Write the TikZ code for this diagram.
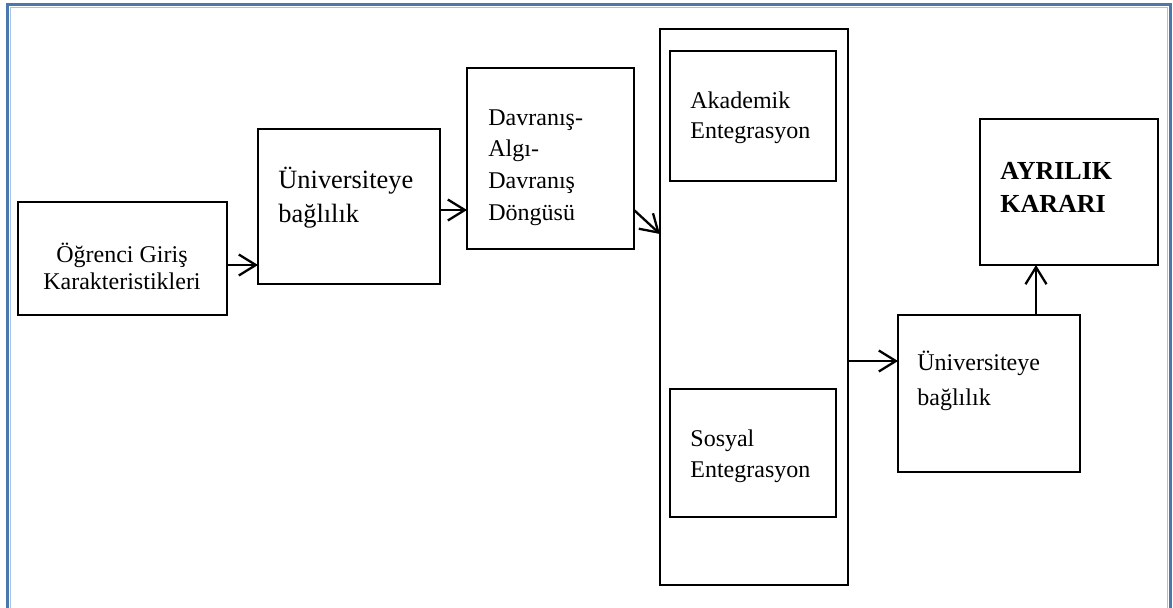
\documentclass[tikz,border=0pt]{standalone}
\usepackage{fontspec}
\setmainfont{Liberation Serif}
\usetikzlibrary{arrows.meta,fit}
\definecolor{framedark}{HTML}{4A78AC}
\definecolor{framelight}{HTML}{A9C3E2}
\begin{document}
\begin{tikzpicture}[x=0.5pt,y=-0.5pt,
  box/.style={draw=black,line width=0.7pt,inner sep=0pt,outer sep=0pt},
  arr/.style={draw=black,line width=1.15pt,-{Straight Barb[length=8.5pt,width=10.5pt]}},
  lbl/.style={inner sep=0pt,anchor=base west,font=\fontsize{12}{14}\selectfont},
  lblc/.style={lbl,anchor=base},
  lblbig/.style={lbl,font=\fontsize{13.2}{16}\selectfont},
  lblbold/.style={lbl,font=\fontsize{13}{16}\selectfont\bfseries}]
\useasboundingbox (0,0) rectangle (1173,607);
\clip (0,0) rectangle (1173,607);

% outer frame (open at the bottom edge of the page)
\draw[framedark,line width=1.6pt] (7.6,4.8) -- (1170.4,4.8) -- (1170.4,650) -- (7.6,650) -- cycle;
\draw[framelight,line width=0.8pt] (10.4,7.4) -- (1167.6,7.4) -- (1167.6,650) -- (10.4,650) -- cycle;

% boxes
\node[box,fit={(18,202) (227,315)}] (giris) {};
\node[box,fit={(258,129) (440,284)}] (bag1) {};
\node[box,fit={(467,68) (634,249)}] (dongu) {};
\node[box,fit={(660,29) (848,585)}] (entg) {};
\node[box,fit={(670,51) (836,181)}] (akad) {};
\node[box,fit={(670,389) (836,517)}] (sosyal) {};
\node[box,fit={(898,315) (1080,472)}] (bag2) {};
\node[box,fit={(980,119) (1158,265)}] (karar) {};

% texts
\node[lblc] (tg1) at (122,262) {Öğrenci Giriş};
\node[lblc] (tg2) at (122,289) {Karakteristikleri};

\node[lblbig] (tb1) at (278,188) {Üniversiteye};
\node[lblbig] (tb2) at (278,222) {bağlılık};

\node[lbl] (td1) at (488,125) {Davranış-};
\node[lbl] (td2) at (488,156) {Algı-};
\node[lbl] (td3) at (488,188) {Davranış};
\node[lbl] (td4) at (488,220) {Döngüsü};

\node[lbl] (ta1) at (690,108) {Akademik};
\node[lbl] (ta2) at (690,138) {Entegrasyon};

\node[lbl] (ts1) at (690,446) {Sosyal};
\node[lbl] (ts2) at (690,477) {Entegrasyon};

\node[lbl] (tu1) at (917,370) {Üniversiteye};
\node[lbl] (tu2) at (917,405) {bağlılık};

\node[lblbold] (tk1) at (1000,179) {AYRILIK};
\node[lblbold] (tk2) at (1000,212) {KARARI};

% connectors
\draw[arr] (giris.east |- 0,265) -- (bag1.west |- 0,265);
\draw[arr] (bag1.east |- 0,210) -- (dongu.west |- 0,210);
\draw[arr] (dongu.east |- 0,210) -- (entg.west |- 0,234);
\draw[arr] (entg.east |- 0,361) -- (bag2.west |- 0,361);
\draw[arr] (bag2.north -| 1036,0) -- (karar.south -| 1036,0);
\end{tikzpicture}
\end{document}
